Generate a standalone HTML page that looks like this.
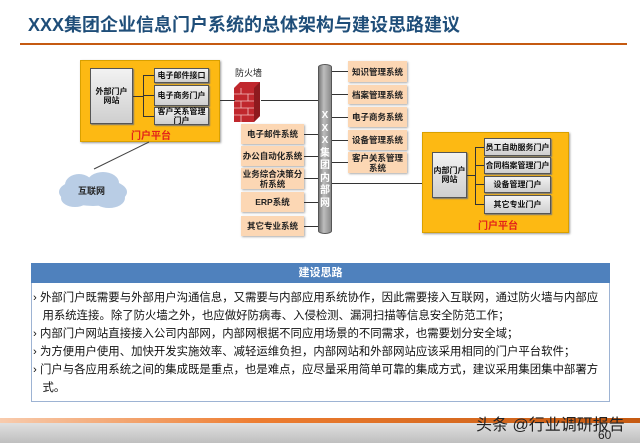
<!DOCTYPE html>
<html><head><meta charset="utf-8"><style>
*{margin:0;padding:0;box-sizing:border-box}
body{width:640px;height:443px;background:#fff;position:relative;overflow:hidden;font-family:"Liberation Sans","Noto Sans CJK SC",sans-serif}
.a{position:absolute}
.sb{position:absolute;background:linear-gradient(#f2f2f2,#cfcfcf);border:1px solid #555;font-size:8px;font-weight:bold;color:#111;display:flex;align-items:center;justify-content:center;text-align:center;line-height:9px;box-shadow:1px 1px 1px #777}
.ob{position:absolute;background:#fcd7b4;font-size:8.5px;font-weight:bold;color:#222;display:flex;align-items:center;justify-content:center;text-align:center;line-height:10px;box-shadow:1px 1px 2px #aaa}
.y{position:absolute;background:#fdb913;border:1px solid #d9a000;box-shadow:1px 1px 2px #999}
.l{position:absolute;background:#333}
.red{position:absolute;color:#e2231a;font-size:10px;font-weight:bold}
.t{position:absolute;left:33px;font-size:11.4px;color:#111;line-height:18px;white-space:nowrap}
</style></head><body>
<div class="a" style="left:28px;top:11px;font-size:18px;font-weight:bold;color:#1f4e79;white-space:nowrap">XXX集团企业信息门户系统的总体架构与建设思路建议</div>
<div class="a" style="left:20px;top:43px;width:607px;height:2px;background:#c55a11"></div>

<!-- left yellow -->
<div class="y" style="left:80px;top:60px;width:140px;height:82px"></div>
<div class="sb" style="left:90px;top:68px;width:43px;height:56px">外部门户<br>网站</div>
<div class="l" style="left:133px;top:96px;width:10px;height:1px"></div>
<div class="l" style="left:143px;top:75px;width:1px;height:41px"></div>
<div class="l" style="left:143px;top:75px;width:11px;height:1px"></div>
<div class="l" style="left:143px;top:95px;width:11px;height:1px"></div>
<div class="l" style="left:143px;top:116px;width:11px;height:1px"></div>
<div class="sb" style="left:154px;top:68px;width:55px;height:15px">电子邮件接口</div>
<div class="sb" style="left:154px;top:85px;width:55px;height:21px">电子商务门户</div>
<div class="sb" style="left:154px;top:107px;width:55px;height:18px">客户关系管理<br>门户</div>
<div class="red" style="left:131px;top:127px">门户平台</div>

<!-- firewall -->
<div class="a" style="left:235px;top:66px;font-size:9px;color:#222">防火墙</div>
<svg class="a" style="left:234px;top:82px" width="28" height="41"><polygon points="0,6 6,0 26,0 26,34 20,40 0,40" fill="#c0272d"/><polygon points="20,6 26,0 26,34 20,40" fill="#8e1a1e"/><g stroke="#f3c0c0" stroke-width="0.8"><line x1="0" y1="12" x2="20" y2="12"/><line x1="0" y1="19" x2="20" y2="19"/><line x1="0" y1="26" x2="20" y2="26"/><line x1="0" y1="33" x2="20" y2="33"/><line x1="7" y1="6" x2="7" y2="12"/><line x1="14" y1="12" x2="14" y2="19"/><line x1="7" y1="19" x2="7" y2="26"/><line x1="14" y1="26" x2="14" y2="33"/><line x1="7" y1="33" x2="7" y2="40"/></g></svg>
<div class="l" style="left:220px;top:100px;width:15px;height:1px"></div>
<div class="l" style="left:261px;top:100px;width:57px;height:1px"></div>

<!-- cloud -->
<svg class="a" style="left:55px;top:170px" width="76" height="40"><g fill="#b9cde5"><ellipse cx="38" cy="22" rx="34" ry="14"/><ellipse cx="24" cy="15" rx="14" ry="11"/><ellipse cx="48" cy="13" rx="16" ry="11"/><ellipse cx="20" cy="28" rx="14" ry="9"/><ellipse cx="54" cy="28" rx="16" ry="10"/></g></svg>
<div class="a" style="left:78px;top:184px;font-size:9px;font-weight:bold;color:#222">互联网</div>
<svg class="a" style="left:0;top:0" width="640" height="443"><line x1="149" y1="142" x2="94" y2="169" stroke="#444" stroke-width="1"/></svg>

<!-- pipe -->
<div class="a" style="left:318px;top:64px;width:14px;height:170px;border-radius:7px/3px;background:linear-gradient(90deg,#7a7a7a,#bdbdbd 40%,#8a8a8a);border:1px solid #555"></div>
<div class="a" style="left:318px;top:110px;width:14px;font-size:10px;font-weight:bold;color:#fff;text-align:center;line-height:12.5px">X<br>X<br>X<br>集<br>团<br>内<br>部<br>网</div>

<!-- right column -->
<div class="ob" style="left:348px;top:61px;width:59px;height:21px">知识管理系统</div>
<div class="ob" style="left:348px;top:85px;width:59px;height:19px">档案管理系统</div>
<div class="ob" style="left:348px;top:107px;width:59px;height:20px">电子商务系统</div>
<div class="ob" style="left:348px;top:130px;width:59px;height:20px">设备管理系统</div>
<div class="ob" style="left:348px;top:152px;width:59px;height:21px">客户关系管理<br>系统</div>
<div class="l" style="left:332px;top:71px;width:16px;height:1px"></div>
<div class="l" style="left:332px;top:94px;width:16px;height:1px"></div>
<div class="l" style="left:332px;top:117px;width:16px;height:1px"></div>
<div class="l" style="left:332px;top:140px;width:16px;height:1px"></div>
<div class="l" style="left:332px;top:162px;width:16px;height:1px"></div>

<!-- left column -->
<div class="ob" style="left:241px;top:124px;width:63px;height:20px">电子邮件系统</div>
<div class="ob" style="left:241px;top:146px;width:63px;height:20px">办公自动化系统</div>
<div class="ob" style="left:241px;top:168px;width:63px;height:21px">业务综合决策分<br>析系统</div>
<div class="ob" style="left:241px;top:192px;width:63px;height:20px">ERP系统</div>
<div class="ob" style="left:241px;top:216px;width:63px;height:20px">其它专业系统</div>
<div class="l" style="left:304px;top:134px;width:14px;height:1px"></div>
<div class="l" style="left:304px;top:156px;width:14px;height:1px"></div>
<div class="l" style="left:304px;top:178px;width:14px;height:1px"></div>
<div class="l" style="left:304px;top:202px;width:14px;height:1px"></div>
<div class="l" style="left:304px;top:226px;width:14px;height:1px"></div>

<!-- right yellow -->
<div class="l" style="left:332px;top:183px;width:90px;height:1px"></div>
<div class="y" style="left:422px;top:132px;width:147px;height:101px"></div>
<div class="sb" style="left:432px;top:152px;width:35px;height:46px">内部门户<br>网站</div>
<div class="l" style="left:467px;top:175px;width:8px;height:1px"></div>
<div class="l" style="left:475px;top:147px;width:1px;height:58px"></div>
<div class="l" style="left:475px;top:147px;width:9px;height:1px"></div>
<div class="l" style="left:475px;top:165px;width:9px;height:1px"></div>
<div class="l" style="left:475px;top:184px;width:9px;height:1px"></div>
<div class="l" style="left:475px;top:204px;width:9px;height:1px"></div>
<div class="sb" style="left:484px;top:138px;width:67px;height:18px">员工自助服务门户</div>
<div class="sb" style="left:484px;top:157px;width:67px;height:17px">合同档案管理门户</div>
<div class="sb" style="left:484px;top:176px;width:67px;height:17px">设备管理门户</div>
<div class="sb" style="left:484px;top:195px;width:67px;height:19px">其它专业门户</div>
<div class="red" style="left:478px;top:217px">门户平台</div>

<!-- bottom box -->
<div class="a" style="left:31px;top:263px;width:579px;height:139px;border:1px solid #9db3d3"></div>
<div class="a" style="left:31px;top:263px;width:579px;height:20px;background:#4f81bd;color:#fff;font-size:11px;font-weight:bold;text-align:center;line-height:20px">建设思路</div>
<div class="t" style="top:289px">›&nbsp;外部门户既需要与外部用户沟通信息，又需要与内部应用系统协作，因此需要接入互联网，通过防火墙与内部应<br>&nbsp;&nbsp;&nbsp;用系统连接。除了防火墙之外，也应做好防病毒、入侵检测、漏洞扫描等信息安全防范工作；<br>›&nbsp;内部门户网站直接接入公司内部网，内部网根据不同应用场景的不同需求，也需要划分安全域；<br>›&nbsp;为方便用户使用、加快开发实施效率、减轻运维负担，内部网站和外部网站应该采用相同的门户平台软件；<br>›&nbsp;门户与各应用系统之间的集成既是重点，也是难点，应尽量采用简单可靠的集成方式，建议采用集团集中部署方<br>&nbsp;&nbsp;&nbsp;式。</div>

<!-- footer -->
<div class="a" style="left:0;top:418px;width:640px;height:5px;background:linear-gradient(90deg,#f8cbad,#ed7d31 40%,#c55a11)"></div>
<div class="a" style="left:0;top:423px;width:640px;height:20px;background:linear-gradient(#e0e0e0,#bfbfbf)"></div>
<div class="a" style="left:476px;top:411px;font-size:16px;color:#222;white-space:nowrap">头条 @行业调研报告</div>
<div class="a" style="left:598px;top:428px;font-size:12px;color:#222">60</div>
</body></html>
